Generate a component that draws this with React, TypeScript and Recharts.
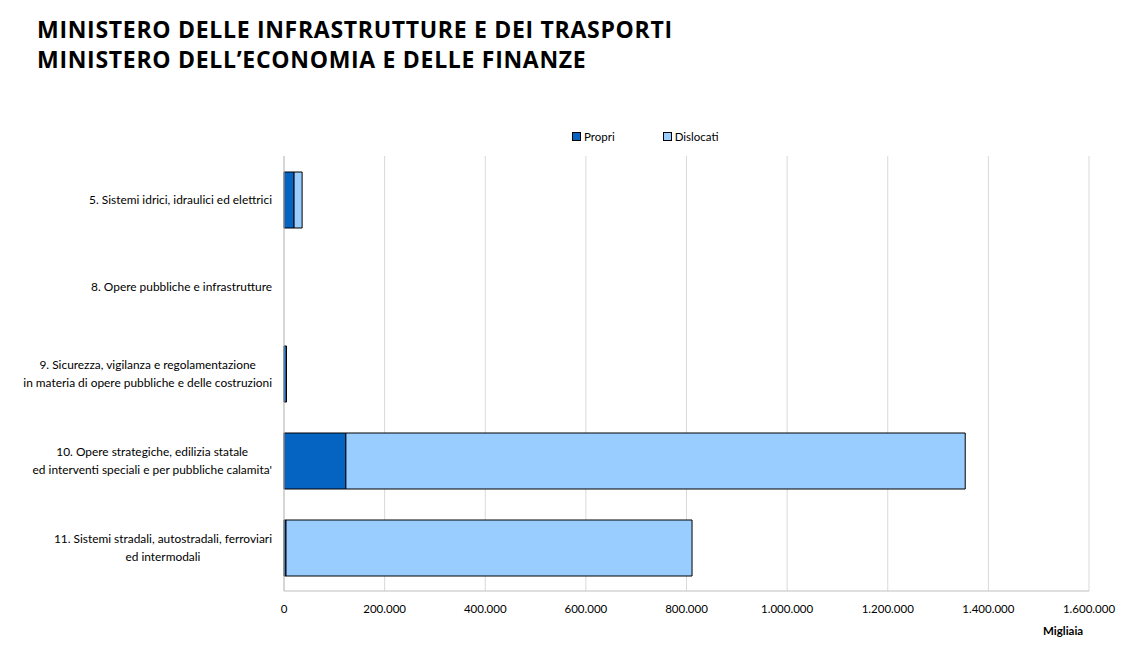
import React from "react";
import { BarChart, Bar, XAxis, YAxis, CartesianGrid } from "recharts";

const categories = [
  "5. Sistemi idrici, idraulici ed elettrici",
  "8. Opere pubbliche e infrastrutture",
  "9. Sicurezza, vigilanza e regolamentazione\nin materia di opere pubbliche e delle costruzioni",
  "10. Opere strategiche, edilizia statale\ned interventi speciali e per pubbliche calamita'",
  "11. Sistemi stradali, autostradali, ferroviari\ned intermodali",
];
const propri = [20000, 0, 5000, 123000, 4000];
const dislocati = [16000, 0, 0, 1231000, 807000];
const xTicks = [0, 200000, 400000, 600000, 800000, 1000000, 1200000, 1400000, 1600000];
const seriesNames = ["Propri", "Dislocati"];

const data = categories.map((name, i) => ({
  name,
  propri: propri[i],
  dislocati: dislocati[i],
}));

const FONT = "Lato, 'Open Sans', sans-serif";
const FS = 11.5;
const LABEL_FS = 11.9;
const DARK = "#0563C1";
const LIGHT = "#99CCFF";

const fmt = (v: number) => String(v).replace(/\B(?=(\d{3})+(?!\d))/g, ".");

let ctx: CanvasRenderingContext2D | null = null;
function measure(t: string) {
  if (!ctx) ctx = document.createElement("canvas").getContext("2d");
  if (!ctx) return t.length * 5;
  ctx.font = `${LABEL_FS}px ${FONT}`;
  return ctx.measureText(t).width;
}

// multi-line category label, lines centred inside a block whose right edge sits at 272
function CategoryTick(props: any) {
  const { y, payload } = props;
  const lines: string[] = String(payload.value).split("\n");
  const w = Math.max(...lines.map(measure));
  const cx = 272 - w / 2;
  const lh = 18;
  const y0 = y - ((lines.length - 1) * lh) / 2;
  return (
    <text textAnchor="middle" fontSize={LABEL_FS} fontFamily={FONT} fill="#000">
      {lines.map((l, i) => (
        <tspan key={i} x={cx} y={y0 + i * lh} dy="0.35em">
          {l}
        </tspan>
      ))}
    </text>
  );
}

function LegendBox() {
  const colors = [DARK, LIGHT];
  return (
    <div
      style={{
        position: "absolute",
        left: 572,
        top: 130,
        fontFamily: FONT,
        fontSize: FS,
        color: "#000",
        whiteSpace: "nowrap",
        display: "flex",
      }}
    >
      {seriesNames.map((s, i) => (
        <span key={s} style={{ display: "inline-flex", alignItems: "center", marginLeft: i ? 48 : 0 }}>
          <span
            style={{
              width: 7,
              height: 7,
              background: colors[i],
              border: "1px solid #000",
              marginRight: 3,
              display: "inline-block",
            }}
          />
          {s}
        </span>
      ))}
    </div>
  );
}

export default function App() {
  return (
    <div style={{ position: "relative", width: 1146, height: 651, margin: -8, background: "#fff" }}>
      <div
        style={{
          position: "absolute",
          left: 37,
          top: 14,
          fontFamily: "'Open Sans', sans-serif",
          fontWeight: 700,
          fontSize: 23,
          letterSpacing: 0.7,
          lineHeight: "30px",
          color: "#000",
          whiteSpace: "nowrap",
        }}
      >
        <div>MINISTERO DELLE INFRASTRUTTURE E DEI TRASPORTI</div>
        <div>MINISTERO DELL’ECONOMIA E DELLE FINANZE</div>
      </div>
      <LegendBox />
      <BarChart
        width={1146}
        height={651}
        data={data}
        layout="vertical"
        margin={{ top: 156, right: 57, bottom: 30, left: 0 }}
        barSize={56}
      >
        <CartesianGrid horizontal={false} stroke="#d9d9d9" />
        <XAxis
          type="number"
          domain={[0, 1600000]}
          ticks={xTicks}
          tickFormatter={fmt}
          axisLine={{ stroke: "#bfbfbf" }}
          tickLine={false}
          height={30}
          tickMargin={8}
          tick={{ fontSize: FS, fontFamily: FONT, fill: "#000" }}
          interval={0}
        />
        <YAxis
          type="category"
          dataKey="name"
          width={284}
          axisLine={{ stroke: "#bfbfbf" }}
          tickLine={false}
          tick={<CategoryTick />}
          interval={0}
        />
        <Bar dataKey="propri" name="Propri" stackId="a" fill={DARK} stroke="#000" strokeWidth={1} isAnimationActive={false} />
        <Bar dataKey="dislocati" name="Dislocati" stackId="a" fill={LIGHT} stroke="#000" strokeWidth={1} isAnimationActive={false} />
      </BarChart>
      <div
        style={{
          position: "absolute",
          left: 1043,
          top: 624,
          fontFamily: FONT,
          fontWeight: 700,
          fontSize: FS,
          color: "#000",
        }}
      >
        Migliaia
      </div>
    </div>
  );
}
